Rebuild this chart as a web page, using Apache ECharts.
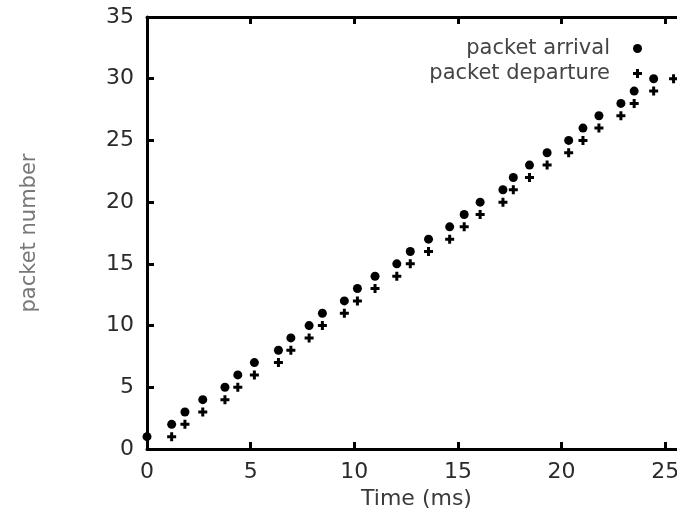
<!DOCTYPE html>
<html>
<head>
<meta charset="utf-8">
<script src="https://cdn.jsdelivr.net/npm/echarts@6/dist/echarts.min.js"></script>
<style>
html,body{margin:0;padding:0;background:#fff;}
#chart{width:677px;height:509px;}
</style>
</head>
<body>
<div id="chart"></div>
<script>
// ---- data ----
const arrivalTime = [0, 1.19, 1.83, 2.69, 3.76, 4.38, 5.18, 6.34, 6.94, 7.82, 8.46, 9.52, 10.15, 11.0, 12.05,
  12.7, 13.58, 14.6, 15.3, 16.07, 17.17, 17.67, 18.45, 19.3, 20.34, 21.03, 21.8, 22.86, 23.5, 24.44];
const arrivalPacket = [1, 2, 3, 4, 5, 6, 7, 8, 9, 10, 11, 12, 13, 14, 15,
  16, 17, 18, 19, 20, 21, 22, 23, 24, 25, 26, 27, 28, 29, 30];
const departureTime = [1.19, 1.83, 2.69, 3.76, 4.38, 5.18, 6.34, 6.94, 7.82, 8.46, 9.52, 10.15, 11.0, 12.05, 12.7,
  13.58, 14.6, 15.3, 16.07, 17.17, 17.67, 18.45, 19.3, 20.34, 21.03, 21.8, 22.86, 23.5, 24.44, 25.4];
const departurePacket = [1, 2, 3, 4, 5, 6, 7, 8, 9, 10, 11, 12, 13, 14, 15,
  16, 17, 18, 19, 20, 21, 22, 23, 24, 25, 26, 27, 28, 29, 30];
const seriesNames = ['packet arrival', 'packet departure'];
const xTickLabels = [0, 5, 10, 15, 20, 25];
const yTickLabels = [0, 5, 10, 15, 20, 25, 30, 35];
const xTitle = 'Time (ms)';
const yTitle = 'packet number';

const plusPath = 'path://M3,0H6V3H9V6H6V9H3V6H0V3H3Z';
const font = 'DejaVu Sans';

const chart = echarts.init(document.getElementById('chart'), null, {renderer: 'canvas'});
const axisLine = {show: true, lineStyle: {color: '#000', width: 3}};
const axisTick = {show: true, inside: true, length: 7, lineStyle: {color: '#000', width: 3}};

chart.setOption({
  animation: false,
  backgroundColor: '#fff',
  grid: {left: 147, right: -9, top: 17, bottom: 60, containLabel: false, outerBoundsMode: 'none'},
  legend: {
    orient: 'vertical',
    right: 30,
    top: 33,
    align: 'right',
    itemWidth: 9,
    itemHeight: 9,
    itemGap: 4,
    textStyle: {fontFamily: font, fontSize: 21, color: '#444', padding: [0, 18, 0, 0]},
    data: [
      {name: seriesNames[0], icon: 'circle'},
      {name: seriesNames[1], icon: plusPath}
    ]
  },
  xAxis: [{
    type: 'value', position: 'bottom', min: 0, max: 26, interval: 5,
    name: xTitle, nameLocation: 'middle', nameGap: 37,
    nameTextStyle: {fontFamily: font, fontSize: 22, color: '#3a3a3a'},
    axisLine: axisLine, axisTick: axisTick, splitLine: {show: false},
    axisLabel: {fontFamily: font, fontSize: 22, color: '#2a2a2a', margin: 12,
      formatter: v => xTickLabels.includes(v) ? String(v) : ''}
  }, {
    type: 'value', position: 'top', min: 0, max: 26, interval: 5,
    axisLine: axisLine, axisTick: axisTick, splitLine: {show: false},
    axisLabel: {show: false}
  }],
  yAxis: [{
    type: 'value', min: 0, max: 35, interval: 5,
    name: yTitle, nameLocation: 'middle', nameGap: 107, nameRotate: 90,
    nameTextStyle: {fontFamily: font, fontSize: 21, color: '#777'},
    axisLine: axisLine, axisTick: axisTick, splitLine: {show: false},
    axisLabel: {fontFamily: font, fontSize: 22, color: '#2a2a2a', margin: 13,
      formatter: v => yTickLabels.includes(v) ? String(v) : ''}
  }],
  series: [{
    name: seriesNames[0], type: 'scatter', symbol: 'circle', symbolSize: 9,
    itemStyle: {color: '#000', opacity: 1},
    data: arrivalTime.map((t, i) => [t, arrivalPacket[i]])
  }, {
    name: seriesNames[1], type: 'scatter', symbol: plusPath, symbolSize: 9,
    itemStyle: {color: '#000', opacity: 1},
    data: departureTime.map((t, i) => [t, departurePacket[i]])
  }]
});
</script>
</body>
</html>
